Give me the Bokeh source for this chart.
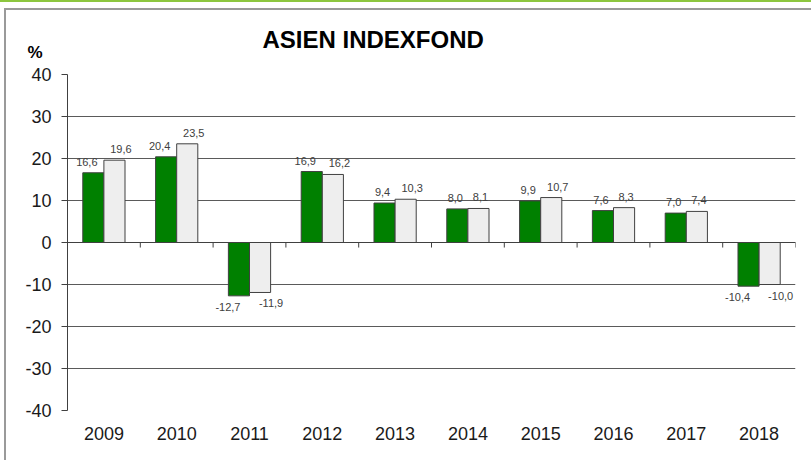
from bokeh.plotting import figure
from bokeh.models import (ColumnDataSource, FactorRange, Range1d, Span, Title,
                          SingleIntervalTicker, InlineStyleSheet)
from bokeh.core.properties import value
from bokeh.transform import dodge
from bokeh.embed import file_html
from bokeh.resources import INLINE

years = ["2009", "2010", "2011", "2012", "2013", "2014", "2015", "2016", "2017", "2018"]
fund = [16.6, 20.4, -12.7, 16.9, 9.4, 8.0, 9.9, 7.6, 7.0, -10.4]
index = [19.6, 23.5, -11.9, 16.2, 10.3, 8.1, 10.7, 8.3, 7.4, -10.0]
yticks = [-40, -30, -20, -10, 0, 10, 20, 30, 40]
title_text = "ASIEN INDEXFOND"
unit_text = "%"

GREEN = "#008000"
LIGHT = "#EEEEEE"
EDGE = "#404040"
FONT = "Liberation Sans"


def fmt(v):
    return f"{v:.1f}".replace(".", ",")


def label_cols(vals, side):
    txt = [fmt(v) for v in vals]
    xo = [side * max(0.0, 4.5 * len(t) - 11.5) for t in txt]
    yo = [-11 if v >= 0 else 11 for v in vals]
    return txt, xo, yo


ft, fxo, fyo = label_cols(fund, -1)
it, ixo, iyo = label_cols(index, 1)

src = ColumnDataSource(dict(year=years, fund=fund, index=index,
                            ft=ft, fxo=fxo, fyo=fyo, it=it, ixo=ixo, iyo=iyo,
                            zero=[0] * len(years), tick=[-1.2] * len(years)))

p = figure(width=811, height=460, x_range=FactorRange(*years, range_padding=0),
           y_range=Range1d(yticks[0], yticks[-1]), output_backend="svg", toolbar_location=None,
           min_border_left=67, min_border_right=16, min_border_top=74, min_border_bottom=50)
p.outline_line_color = None
p.background_fill_color = "white"
p.border_fill_color = None
p.stylesheets = [InlineStyleSheet(css=(
    ":host { background: transparent; box-shadow: inset 0 2px 0 #8cc63f, "
    "inset 4px 8px 0 #ffffff, inset 6px 10px 0 #9a9a9a; }"))]

bw = 0.29
p.vbar(x=dodge("year", -bw / 2, range=p.x_range), top="fund", bottom=0, width=bw, source=src,
       fill_color=GREEN, line_color=EDGE, line_width=1)
p.vbar(x=dodge("year", bw / 2, range=p.x_range), top="index", bottom=0, width=bw, source=src,
       fill_color=LIGHT, line_color=EDGE, line_width=1)

p.add_layout(Span(location=0, dimension="width", line_color=EDGE, line_width=1))
p.segment(x0=dodge("year", 0.5, range=p.x_range), x1=dodge("year", 0.5, range=p.x_range),
          y0="zero", y1="tick", source=src, line_color=EDGE, line_width=1)

for ycol, tcol, xo, yo in (("fund", "ft", "fxo", "fyo"), ("index", "it", "ixo", "iyo")):
    off = -bw / 2 if ycol == "fund" else bw / 2
    p.text(x=dodge("year", off, range=p.x_range), y=ycol, text=tcol, x_offset=xo,
           y_offset=yo, source=src, text_align="center", text_baseline="middle",
           text_font=value(FONT), text_font_size="11px", text_color="#404040")

p.yaxis.ticker = SingleIntervalTicker(interval=10)
p.yaxis.major_label_overrides = {t: str(t) for t in yticks}
p.yaxis.minor_tick_line_color = None
p.yaxis.major_tick_in = 0
p.yaxis.major_tick_out = 6
p.yaxis.axis_line_color = EDGE
p.yaxis.major_tick_line_color = EDGE
p.yaxis.major_label_text_font = FONT
p.yaxis.major_label_text_font_size = "18px"
p.yaxis.major_label_text_color = "#1a1a1a"
p.yaxis.major_label_standoff = 10

p.xaxis.axis_line_color = None
p.xaxis.major_tick_line_color = None
p.xaxis.minor_tick_line_color = None
p.xaxis.major_label_text_font = FONT
p.xaxis.major_label_text_font_size = "18px"
p.xaxis.major_label_text_color = "#1a1a1a"
p.xaxis.major_label_standoff = 10

p.xgrid.grid_line_color = None
p.ygrid.grid_line_color = "#5a5a5a"
p.ygrid.grid_line_width = 1

p.add_layout(Title(text=unit_text, align="left", offset=-40, text_font=FONT,
                   text_font_size="17px", text_font_style="bold", text_color="#000000",
                   standoff=26), "above")
p.add_layout(Title(text=title_text, align="left", offset=195, text_font=FONT,
                   text_font_size="24px", text_font_style="bold", text_color="#000000",
                   vertical_align="bottom", standoff=-50), "above")

open("out.html", "w").write(file_html(p, INLINE))
